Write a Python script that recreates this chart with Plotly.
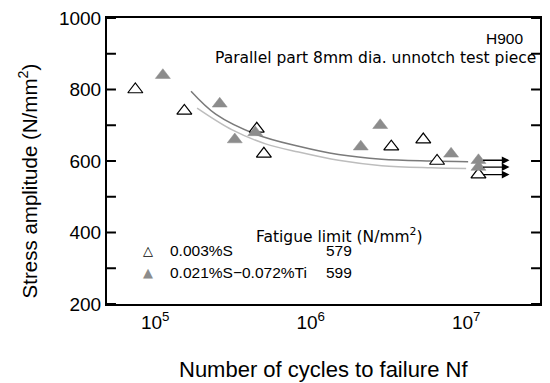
import math
import plotly.graph_objects as go

# Fatigue test results, 8 mm dia. unnotched specimens (H900)
open_n = [7.45e4, 1.54e5, 4.5e5, 5.0e5, 3.3e6, 5.3e6, 6.5e6]
open_s = [800, 740, 690, 620, 640, 660, 600]
filled_n = [1.12e5, 2.6e5, 3.25e5, 4.4e5, 2.1e6, 2.8e6, 8.0e6]
filled_s = [840, 760, 660, 680, 640, 700, 620]

# Run-outs (specimens that did not fail)
runout_open_n = [1.2e7]
runout_open_s = [562]
runout_filled_n = [1.2e7, 1.2e7]
runout_filled_s = [602, 583]
runout_arrow_end = 1.9e7

# S-N curves
curve_filled_n = [1.70e5, 2.45e5, 4.43e5, 8.37e5, 1.51e6, 2.86e6, 5.97e6, 1.03e7]
curve_filled_s = [795, 731, 675, 641, 618, 605, 600, 598]
curve_open_n = [1.86e5, 3.13e5, 5.13e5, 8.37e5, 1.51e6, 2.86e6, 5.97e6, 1.0e7]
curve_open_s = [748, 687, 648, 625, 602, 587, 581, 579]

legend_labels = ["0.003%S", "0.021%S\u22120.072%Ti"]
fatigue_limits = ["579", "599"]

# Axis ticks
x_major = [1e5, 1e6, 1e7]
x_major_labels = ["10<sup>5</sup>", "10<sup>6</sup>", "10<sup>7</sup>"]
x_minor = [6e4, 7e4, 8e4, 9e4,
           2e5, 3e5, 4e5, 5e5, 6e5, 7e5, 8e5, 9e5,
           2e6, 3e6, 4e6, 5e6, 6e6, 7e6, 8e6, 9e6,
           2e7]
y_ticks = [200, 300, 400, 500, 600, 700, 800, 900, 1000]
y_labels = ["200", "", "400", "", "600", "", "800", "", "1000"]

FONT = "Liberation Sans, Arial, sans-serif"
WIDE = "DejaVu Sans, sans-serif"
GRAY = "#8c8c8c"
W, H = 550, 383
MARGIN = dict(l=107, r=8, t=14, b=79)
PLOT_W = W - MARGIN["l"] - MARGIN["r"]
PLOT_H = H - MARGIN["t"] - MARGIN["b"]

fig = go.Figure()

fig.add_trace(go.Scatter(x=curve_filled_n, y=curve_filled_s, mode="lines",
                         line=dict(color="#7a7a7a", width=1.5, shape="spline")))
fig.add_trace(go.Scatter(x=curve_open_n, y=curve_open_s, mode="lines",
                         line=dict(color="#bdbdbd", width=1.5, shape="spline")))

fig.add_trace(go.Scatter(x=open_n + runout_open_n, y=open_s + runout_open_s, mode="markers",
                         marker=dict(symbol="triangle-up", size=13, color="white",
                                     line=dict(color="black", width=1.2))))
fig.add_trace(go.Scatter(x=filled_n + runout_filled_n, y=filled_s + runout_filled_s, mode="markers",
                         marker=dict(symbol="triangle-up", size=13, color=GRAY,
                                     line=dict(color=GRAY, width=0.5))))

for n, s in zip(runout_open_n + runout_filled_n, runout_open_s + runout_filled_s):
    fig.add_annotation(x=math.log10(runout_arrow_end), y=s, ax=math.log10(n) + 0.02, ay=s,
                       xref="x", yref="y", axref="x", ayref="y", text="",
                       showarrow=True, arrowhead=2, arrowsize=1.1, arrowwidth=1.4,
                       arrowcolor="black")

ann_font = dict(family=FONT, size=15.5, color="black")
wide_font = dict(family=WIDE, size=15.5, color="black")
fig.add_annotation(x=0.965, y=0.9276, xref="paper", yref="paper", text="H900",
                   showarrow=False, xanchor="right", yanchor="middle", font=ann_font)
fig.add_annotation(x=0.995, y=0.8586, xref="paper", yref="paper",
                   text="Parallel part 8mm dia. unnotch test piece",
                   showarrow=False, xanchor="right", yanchor="middle", font=wide_font)

# Legend block
fig.add_annotation(x=0.340, y=0.238, xref="paper", yref="paper",
                   text="Fatigue limit (N/mm<sup>2</sup>)",
                   showarrow=False, xanchor="left", yanchor="middle", font=wide_font)
row_y = [0.186, 0.110]
symbols = [("\u25b3", "black"), ("\u25b2", GRAY)]
for (sym, col), lab, lim, y in zip(symbols, legend_labels, fatigue_limits, row_y):
    fig.add_annotation(x=0.094, y=y, xref="paper", yref="paper", text=sym,
                       showarrow=False, xanchor="center", yanchor="middle",
                       font=dict(family="DejaVu Sans", size=13, color=col))
    fig.add_annotation(x=0.141, y=y, xref="paper", yref="paper", text=lab,
                       showarrow=False, xanchor="left", yanchor="middle", font=ann_font)
    fig.add_annotation(x=0.501, y=y, xref="paper", yref="paper", text=lim,
                       showarrow=False, xanchor="left", yanchor="middle", font=ann_font)

# Axis titles
fig.add_annotation(x=-0.1816, y=0.43, xref="paper", yref="paper",
                   text="Stress amplitude (N/mm<sup>2</sup>)", textangle=-90,
                   showarrow=False, xanchor="center", yanchor="middle",
                   font=dict(family=FONT, size=20.5, color="black"))
fig.add_annotation(x=0.5, y=-0.2276, xref="paper", yref="paper",
                   text="Number of cycles to failure Nf",
                   showarrow=False, xanchor="center", yanchor="middle",
                   font=dict(family=FONT, size=22, color="black"))

# Inward tick marks on all four sides of the frame
tick_line = dict(color="black", width=2)
for vals, length in [(x_major, 10), (x_minor, 5)]:
    h = length / PLOT_H
    for v in vals:
        fig.add_shape(type="line", xref="x", yref="paper", x0=math.log10(v), x1=math.log10(v),
                      y0=0, y1=h, line=tick_line, layer="above")
        fig.add_shape(type="line", xref="x", yref="paper", x0=math.log10(v), x1=math.log10(v),
                      y0=1, y1=1 - h, line=tick_line, layer="above")
w = 9 / PLOT_W
for v in y_ticks:
    fig.add_shape(type="line", xref="paper", yref="y", x0=0, x1=w, y0=v, y1=v,
                  line=tick_line, layer="above")
    fig.add_shape(type="line", xref="paper", yref="y", x0=1, x1=1 - w, y0=v, y1=v,
                  line=tick_line, layer="above")

fig.update_xaxes(type="log", range=[4.69, 7.475], tickmode="array", tickvals=x_major,
                 ticktext=x_major_labels, ticks="", showgrid=False, zeroline=False,
                 showline=True, linecolor="black", linewidth=2, mirror=True,
                 tickfont=dict(family=FONT, size=19, color="black"))
fig.update_yaxes(range=[200, 1000], tickmode="array", tickvals=y_ticks, ticktext=y_labels,
                 ticks="", showgrid=False, zeroline=False, showline=True,
                 linecolor="black", linewidth=2, mirror=True,
                 tickfont=dict(family=FONT, size=19, color="black"))

fig.update_layout(width=W, height=H, showlegend=False, margin=MARGIN,
                  paper_bgcolor="white", plot_bgcolor="white")

fig.write_html("out.html")
